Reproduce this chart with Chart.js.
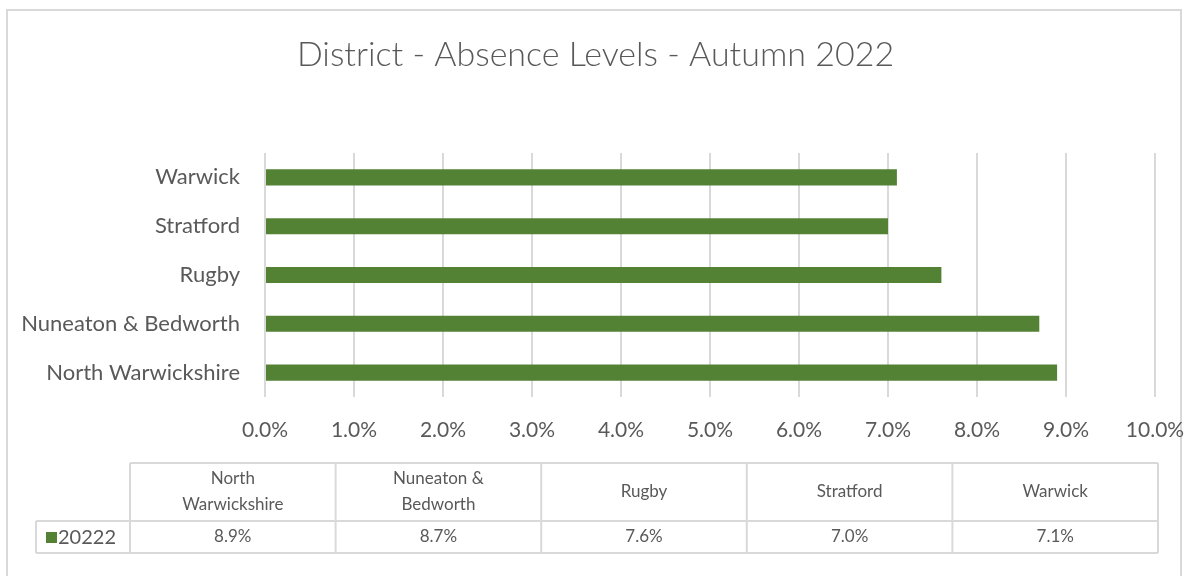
<!DOCTYPE html>
<html>
<head>
<meta charset="utf-8">
<title>District - Absence Levels - Autumn 2022</title>
<script src="https://cdn.jsdelivr.net/npm/chart.js@4/dist/chart.umd.min.js"></script>
<style>
  body { margin: 0; background: #ffffff; overflow: hidden; }
  .chart-wrap { position: relative; width: 1191px; height: 576px; }
  .chart-frame {
    position: absolute; left: 6px; top: 9px; width: 1176px; height: 620px;
    border: 2px solid #d9d9d9; box-sizing: border-box; pointer-events: none;
  }
  canvas { position: absolute; left: 0; top: 0; }
</style>
</head>
<body>
<div class="chart-wrap">
  <div class="chart-frame"></div>
  <canvas id="absenceChart" width="1191" height="576"></canvas>
</div>
<script>
// Chart data (percent values)
const chartTitle = 'District - Absence Levels - Autumn 2022';
const districts = ['North Warwickshire', 'Nuneaton & Bedworth', 'Rugby', 'Stratford', 'Warwick'];
const absence2022 = [8.9, 8.7, 7.6, 7.0, 7.1];
const seriesName = '20222';
const axisMin = 0;
const axisMax = 10;
const axisStep = 1;

const textColor = '#595959';
const gridColor = '#d9d9d9';
const barColor = '#548235';
const fontFamily = 'Lato, "Open Sans", sans-serif';

// Greedy word wrap for the data table headers
function wrapText(ctx, text, maxWidth) {
  const words = text.split(' ');
  const lines = [];
  let line = '';
  words.forEach(word => {
    const test = line ? line + ' ' + word : word;
    if (line && ctx.measureText(test).width > maxWidth) {
      lines.push(line);
      line = word;
    } else {
      line = test;
    }
  });
  if (line) lines.push(line);
  return lines;
}

// Title centred on the whole canvas (the built-in one centres inside the padding)
const centredTitlePlugin = {
  id: 'centredTitle',
  afterDraw(chart) {
    const ctx = chart.ctx;
    ctx.save();
    ctx.fillStyle = textColor;
    ctx.font = '300 34px ' + fontFamily;
    ctx.textAlign = 'center';
    ctx.textBaseline = 'middle';
    ctx.fillText(chartTitle, chart.width / 2, 55);
    ctx.restore();
  }
};

// Excel style data table drawn under the plot
const dataTablePlugin = {
  id: 'dataTable',
  afterDraw(chart) {
    const ctx = chart.ctx;
    const labels = chart.data.labels;
    const values = chart.data.datasets[0].data;
    const left = 130, right = 1158;
    const headTop = 463, headBottom = 521, rowBottom = 553;
    const legendLeft = 36;
    const colW = (right - left) / labels.length;

    ctx.save();
    ctx.strokeStyle = gridColor;
    ctx.lineWidth = 2;
    // outer lines of the table
    ctx.beginPath();
    ctx.moveTo(left, headTop); ctx.lineTo(right, headTop);
    ctx.moveTo(legendLeft, headBottom); ctx.lineTo(right, headBottom);
    ctx.moveTo(legendLeft, rowBottom); ctx.lineTo(right, rowBottom);
    ctx.moveTo(legendLeft, headBottom); ctx.lineTo(legendLeft, rowBottom);
    for (let i = 0; i <= labels.length; i++) {
      const x = left + i * colW;
      ctx.moveTo(x, headTop); ctx.lineTo(x, rowBottom);
    }
    ctx.stroke();

    // header text and values
    ctx.fillStyle = textColor;
    ctx.textAlign = 'center';
    ctx.textBaseline = 'middle';
    ctx.font = '17px ' + fontFamily;
    labels.forEach((label, i) => {
      const cx = left + (i + 0.5) * colW;
      const lines = wrapText(ctx, label, 140);
      const lineH = 26;
      const mid = (headTop + headBottom) / 2;
      lines.forEach((ln, j) => {
        ctx.fillText(ln, cx, mid + (j - (lines.length - 1) / 2) * lineH);
      });
      ctx.fillText(values[i].toFixed(1) + '%', cx, (headBottom + rowBottom) / 2);
    });

    // legend key for the series
    ctx.fillStyle = barColor;
    ctx.fillRect(46, 532, 11, 11);
    ctx.fillStyle = textColor;
    ctx.textAlign = 'left';
    ctx.font = '20px ' + fontFamily;
    ctx.fillText(chart.data.datasets[0].label, 58, (headBottom + rowBottom) / 2 + 1);
    ctx.restore();
  }
};

new Chart(document.getElementById('absenceChart'), {
  type: 'bar',
  data: {
    labels: districts,
    datasets: [{
      label: seriesName,
      data: absence2022,
      backgroundColor: barColor,
      categoryPercentage: 1,
      barPercentage: 0.33
    }]
  },
  options: {
    indexAxis: 'y',
    responsive: false,
    animation: false,
    layout: { padding: { top: 153, right: 36, bottom: 120, left: 0 } },
    plugins: {
      legend: { display: false },
      tooltip: { enabled: false },
      title: { display: false }
    },
    scales: {
      x: {
        min: axisMin,
        max: axisMax,
        ticks: {
          stepSize: axisStep,
          color: textColor,
          font: { family: fontFamily, size: 21 },
          padding: 21,
          maxRotation: 0,
          callback: v => v.toFixed(1) + '%'
        },
        grid: { color: gridColor, lineWidth: 2, drawTicks: false },
        border: { display: false },
        afterFit: scale => {
          scale.height = 59;
          // keep the plot edges fixed, labels may overhang into the padding
          scale.paddingLeft = 0;
          scale.paddingRight = 0;
        }
      },
      y: {
        reverse: true,
        ticks: {
          color: textColor,
          font: { family: fontFamily, size: 22 },
          padding: 25
        },
        grid: { display: false, drawTicks: false },
        border: { display: false },
        afterFit: scale => { scale.width = 265; }
      }
    }
  },
  plugins: [centredTitlePlugin, dataTablePlugin]
});
</script>
</body>
</html>
